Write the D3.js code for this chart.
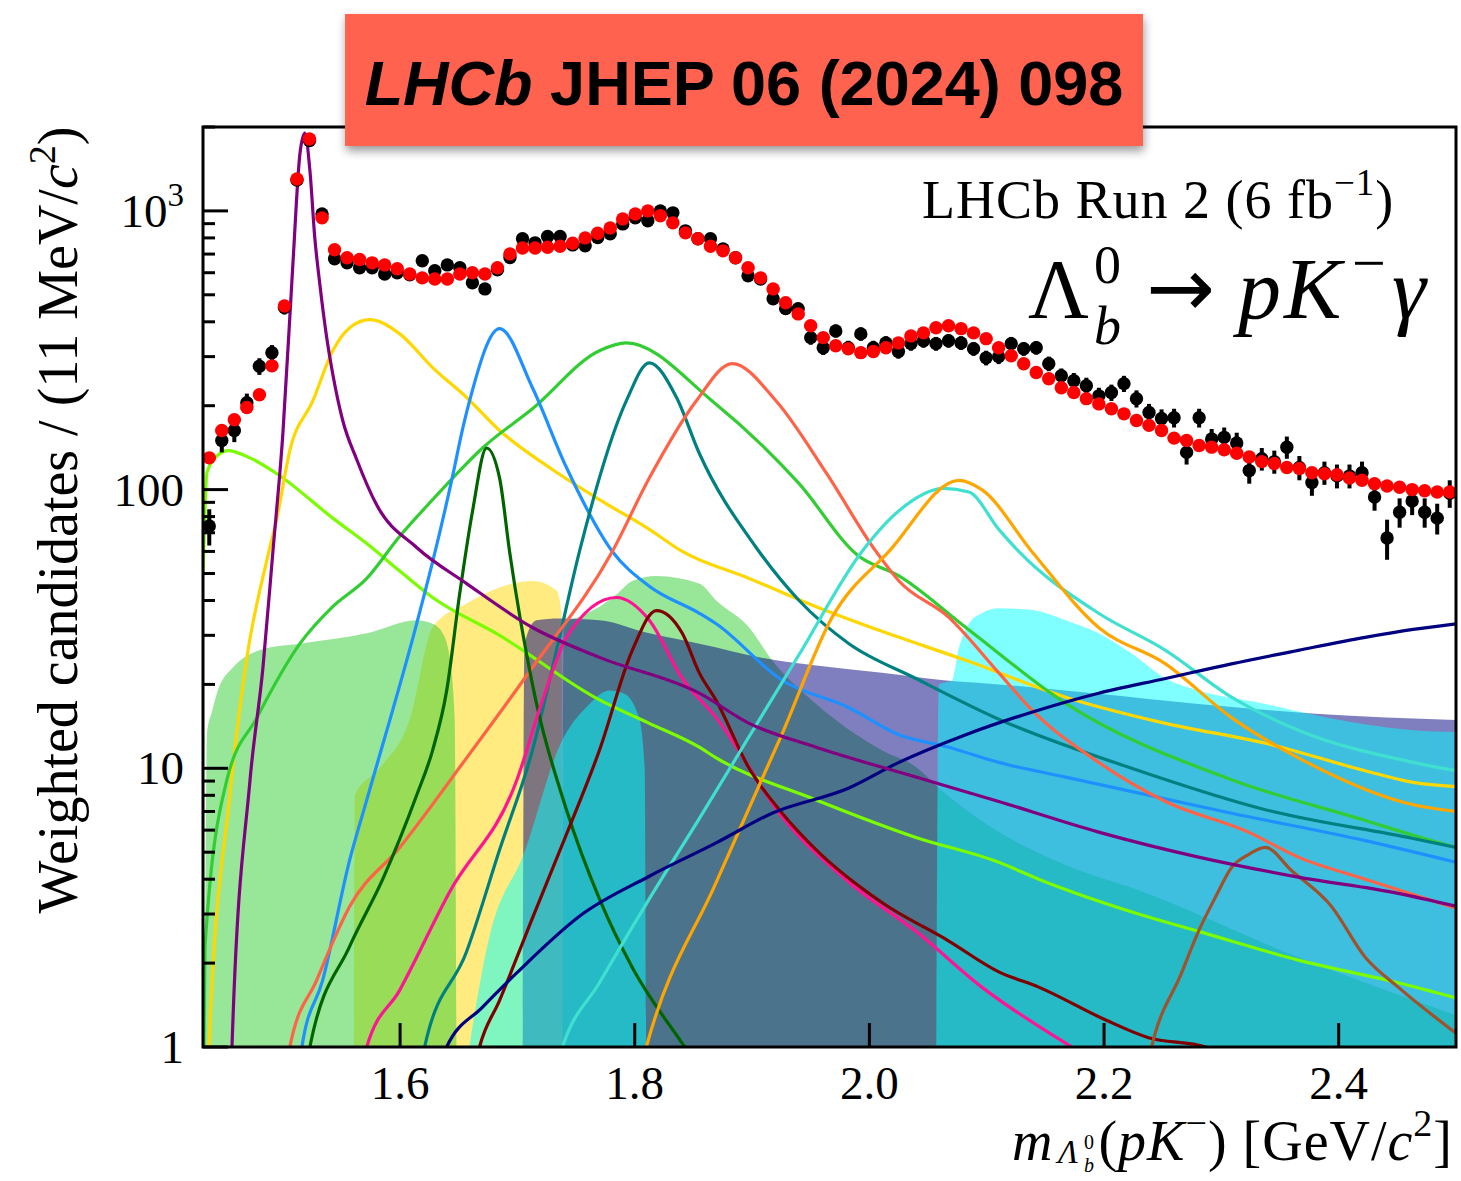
<!DOCTYPE html>
<html><head><meta charset="utf-8">
<script src="https://cdn.jsdelivr.net/npm/d3@7"></script>
<style>body{margin:0;background:#fff}svg{display:block}</style>
</head><body>
<svg id="chart" width="1461" height="1181"></svg>
<script>
// ---------------- DATA ----------------
const binLo = 1.432, binHi = 2.5, nBins = 100;
const dataBlack = [74,150,163,205,277,310,450,1290,1790,975,
 673,651,625,625,594,600,590,662,610,640,625,552,525,
 615,680,794,768,810,810,755,750,
 803,828,898,944,921,1000,984,848,794,794,730,679,
 585,570,484,446,446,351,323,371,
 323,362,323,336,313,334,342,334,342,336,320,297,
 300,334,320,323,283,256,246,236,217,223,240,212,189,
 180,181,136,181,152,154,147,117,129,126,142,120,106,
 115,112,112,115,94,67,83,91,83,79,97];
const errBlack = [11,14,15,16,19,20,25,40,48,35,
 28,27,27,27,26,26,26,28,27,27,27,26,25,
 26,28,30,30,30,30,29,29,
 30,30,32,33,32,33,33,31,30,30,29,28,
 26,25,23,22,22,20,19,20,
 19,20,19,19,18,19,19,19,19,19,18,18,
 18,19,18,18,17,16,16,16,15,15,16,15,14,
 14,14,13,14,13,13,13,12,12,12,13,12,11,
 11,11,11,11,10,11,10,10,10,10,11];
const fitRed = [130,163,178,197,219,278,456,1302,1811,944,
 725,679,669,651,640,620,594,575,570,570,594,600,594,
 625,701,736,736,741,747,765,800,
 831,869,936,975,1000,961,906,834,794,747,719,679,
 625,575,525,468,427,387,351,328,
 320,310,313,323,336,356,365,381,387,378,365,348,
 323,302,283,263,250,232,223,212,203,195,187,177,170,
 163,153,150,144,142,139,135,131,126,124,120,119,115,
 114,113,110,108,105,103,102,100,99,98,98];
const errRed = [5,6,7,8,9,11,16,40,55,30,
 24,23,22,22,21,21,20,20,20,20,20,20,20,
 21,23,24,24,24,24,25,26,
 27,28,29,30,30,29,28,27,26,25,24,23,
 22,20,19,17,16,15,14,13,
 13,13,13,13,13,14,14,14,14,14,14,13,
 13,12,12,11,10,10,9,9,9,8,8,8,7,
 7,7,6,6,6,6,6,6,5,5,5,5,5,
 5,5,5,4,4,4,4,4,4,4,4];

const xTicks = [1.6, 1.8, 2.0, 2.2, 2.4];
const xTickLabels = ["1.6", "1.8", "2.0", "2.2", "2.4"];
const yTicks = [1, 10, 100, 1000];
const yTickLabels = ["1", "10", "100", "10"];

// filled templates [mass, value]
const fillYellow = [[1.5605,0.5],[1.5614,8],[1.5826,10],[1.6082,15],[1.6277,32],[1.6567,39],[1.6848,44.5],[1.7128,47],[1.7333,43.5],[1.7375,36],[1.7392,0.5]];
const fillGreenA = [[1.4332,0.5],[1.4354,13.3],[1.4397,16],[1.4439,18.6],[1.4575,23],[1.4865,27],[1.5146,28],[1.5716,30.5],[1.6141,34],[1.6277,33],[1.6363,30.5],[1.6422,25],[1.6465,15],[1.6482,0.5]];
const fillGreenC = [[1.7384,0.5],[1.7395,33],[1.7529,35],[1.7699,38],[1.7843,42],[1.7979,47],[1.8184,49],[1.855,46],[1.8694,40],[1.8975,32],[1.9171,24.4],[1.9546,17],[2.0107,11.6],[2.0397,10.1],[2.0592,8.5],[2.1,6.3],[2.1673,4.5],[2.2294,3.65],[2.3656,2.1],[2.5,1.3]];
const fillNavy = [[1.7043,0.5],[1.706,28],[1.7163,34],[1.7358,34.5],[1.7699,34],[1.8124,30.5],[1.855,28],[1.9205,24.4],[1.9546,23.4],[2.0107,22],[2.0677,20.6],[2.1103,20],[2.1954,18.5],[2.2805,17],[2.3801,15.7],[2.5,14.9]];
const fillCyanLow = [[1.6482,0.5],[1.6763,2.5],[1.706,5],[1.7358,12],[1.7614,17],[1.7784,19],[1.7911,18.5],[1.8039,15],[1.8085,10],[1.8099,0.5]];
const fillCyanHigh = [[2.0567,0.5],[2.0592,20],[2.0703,20.6],[2.0763,27],[2.0848,33],[2.0958,36],[2.1103,37.5],[2.1384,37],[2.1673,34],[2.1954,30.5],[2.2235,25.8],[2.2524,21],[2.2805,19],[2.3375,17],[2.3801,15.5],[2.4635,13.7],[2.5,13.5]];

// line components [mass, value]
const compPurple = [[1.4545,0.5],[1.4567,1],[1.472,9],[1.4831,23],[1.4916,60],[1.5001,159],[1.5086,643],[1.5146,1600],[1.5188,1900],[1.5231,1400],[1.5273,800],[1.5316,545],[1.5375,350],[1.5426,260],[1.5511,177],[1.5631,128],[1.5801,88],[1.6141,62],[1.6567,46],[1.7128,32],[1.7699,25],[1.855,18.6],[1.8975,14.5],[1.9546,11.9],[2.0397,9.3],[2.1103,7.6],[2.1954,5.9],[2.2805,4.8],[2.3656,4.07],[2.4507,3.56],[2.5,3.2]];
const compGold = [[1.4355,0.6],[1.4371,1],[1.455,8.1],[1.4694,25],[1.4865,56],[1.495,79],[1.506,138],[1.5256,208],[1.5426,315],[1.5571,381],[1.5741,407],[1.5997,362],[1.6277,274],[1.6567,214],[1.6848,163],[1.7273,120],[1.7699,92],[1.8124,72],[1.8405,60],[1.8975,48],[1.9546,38],[2.0107,31],[2.0822,24.4],[2.1673,18],[2.2524,14.5],[2.3375,12.3],[2.4226,9.8],[2.4635,8.9],[2.5,8.6]];
const compBlue = [[1.514,0.7],[1.5163,1],[1.5341,1.74],[1.5571,4.7],[1.5716,7.7],[1.6141,33],[1.6277,55],[1.6448,112],[1.6533,165],[1.6592,208],[1.6848,378],[1.7128,232],[1.7418,120],[1.7809,60],[1.8124,45],[1.855,36],[1.8694,33],[1.9256,20.7],[1.9826,16.5],[2.0252,13.2],[2.0677,11.9],[2.1103,10.5],[2.1673,9.3],[2.3086,6.9],[2.4226,5.5],[2.5,4.6]];
const compGreen = [[1.4325,0.8],[1.4337,2.3],[1.4524,9.1],[1.478,15.2],[1.5146,28],[1.5426,38],[1.5716,48],[1.5997,68],[1.6277,92],[1.6567,124],[1.6703,141],[1.7128,195],[1.7699,315],[1.7928,336],[1.866,208],[1.9401,105],[1.9902,58],[2.0252,49],[2.0822,32],[2.1673,17.1],[2.3086,9.1],[2.4226,6.5],[2.4635,5.75],[2.5,5.2]];
const compTeal = [[1.62,0.8],[1.6209,1],[1.6567,2.2],[1.6848,5.1],[1.7128,11.6],[1.7333,26.5],[1.7529,60],[1.7928,208],[1.8124,285],[1.8354,215],[1.855,135],[1.9035,62],[1.9401,40],[1.9826,28],[2.0397,21],[2.1103,15],[2.2235,10],[2.3375,7.1],[2.4635,5.6],[2.5,5.2]];
const compTomato = [[1.505,0.8],[1.506,1],[1.529,1.74],[1.5571,3.2],[1.5997,5.2],[1.6567,10.9],[1.7128,23],[1.7809,60],[1.8124,110],[1.8524,208],[1.8831,283],[1.9205,208],[1.9631,115],[2.0056,60],[2.0252,47],[2.0677,34.8],[2.1103,22],[2.1384,16.2],[2.1954,10.5],[2.2524,7.6],[2.3231,5.9],[2.3656,4.8],[2.4226,4.0],[2.5,3.15]];
const compDarkGreen = [[1.52,0.8],[1.5231,1],[1.5571,2.3],[1.5852,4],[1.6141,8],[1.6277,11.6],[1.6397,19],[1.6507,42],[1.6618,84],[1.6737,141],[1.6848,110],[1.6933,60],[1.7128,20],[1.7418,7.1],[1.7699,3.4],[1.7979,1.93],[1.8405,1.03],[1.85,0.9]];
const compPink = [[1.57,0.9],[1.5716,1],[1.5997,1.6],[1.6422,3.6],[1.6992,9],[1.7214,17.5],[1.7418,29.5],[1.7843,41],[1.8124,34],[1.8405,21],[1.8694,15.2],[1.9256,6.7],[1.9826,3.9],[2.0397,2.6],[2.0958,1.64],[2.1724,1],[2.19,0.9]];
const compMaroon = [[1.665,0.9],[1.6677,1],[1.6848,1.47],[1.7128,2.9],[1.7418,5.8],[1.7699,11.6],[1.7979,26.5],[1.8184,36.8],[1.8405,30.5],[1.855,22],[1.8694,17.5],[1.8975,10],[1.9256,6.9],[1.9546,5.1],[2.0107,3.3],[2.0677,2.4],[2.1103,1.86],[2.1443,1.64],[2.2014,1.25],[2.2379,1.08],[2.2865,1],[2.3,0.9]];
const compNavy = [[1.635,0.9],[1.6397,1],[1.6703,1.39],[1.6992,1.84],[1.7554,3.0],[1.8124,4.1],[1.8694,5.4],[1.9171,6.9],[1.9826,8.5],[2.0252,10.5],[2.0822,13.2],[2.1384,15.9],[2.1954,18.6],[2.2524,21],[2.3086,23.7],[2.3656,26.5],[2.4226,29.5],[2.4635,31.5],[2.5,33]];
const compTurquoise = [[1.735,0.9],[1.7384,1],[1.7699,1.7],[1.8124,3.4],[1.855,6.6],[1.8975,13],[1.9401,25.6],[1.9937,60],[2.0252,84],[2.0635,101],[2.0848,98],[2.1103,72],[2.1273,60],[2.1954,36],[2.2524,26.5],[2.3086,18],[2.3656,13.7],[2.4635,10.5],[2.5,9.8]];
const compOrange = [[1.807,0.9],[1.8099,1],[1.8694,3.9],[1.9256,13.3],[1.9682,34.8],[2.0167,60],[2.0763,108],[2.0958,100],[2.1384,60],[2.1954,32],[2.2524,23.7],[2.3086,15.2],[2.3656,10.9],[2.4635,7.4],[2.5,7.0]];
const compChartreuse = [[1.432,50],[1.4354,115],[1.4422,130],[1.4533,138],[1.472,130],[1.495,114],[1.5426,79],[1.5716,64],[1.5997,51],[1.6277,41],[1.6848,30],[1.7699,17.6],[1.8124,14.5],[1.855,11.9],[1.8694,10.9],[1.9546,7.7],[2.0397,5.65],[2.1103,4.6],[2.1443,4],[2.2294,3],[2.2805,2.6],[2.3656,2.05],[2.4507,1.7],[2.5,1.5]];
const compSienna = [[2.238,0.9],[2.2405,1],[2.266,1.84],[2.2805,2.6],[2.295,3.45],[2.3086,4.4],[2.3231,4.9],[2.3375,5.2],[2.3597,4.3],[2.3937,3.2],[2.4226,2.1],[2.4507,1.64],[2.5,1.12]];

// ---------------- DRAW ----------------
const svg = d3.select("#chart");
const M = {l:203, r:1456, t:127, b:1047};
const x = d3.scaleLinear().domain([binLo, binHi]).range([M.l, M.r]);
const y = d3.scaleLog().domain([1, 2000]).range([M.b, M.t]);
const SERIF = "'Liberation Serif','Times New Roman',serif";

const defs = svg.append("defs");
defs.append("clipPath").attr("id","clip").append("rect")
  .attr("x",M.l).attr("y",M.t).attr("width",M.r-M.l).attr("height",M.b-M.t);
const flt = defs.append("filter").attr("id","shadow")
  .attr("x","-5%").attr("y","-10%").attr("width","112%").attr("height","135%");
flt.append("feDropShadow").attr("dx",1).attr("dy",5).attr("stdDeviation",5)
  .attr("flood-color","#000").attr("flood-opacity",0.4);

const plot = svg.append("g").attr("clip-path","url(#clip)");
const yv = v => y(Math.max(v, 0.05));

const area = d3.area().curve(d3.curveMonotoneX)
  .x(d => x(d[0])).y0(M.b + 5).y1(d => yv(d[1]));
const fills = [
  [fillYellow, "#FFD700"],
  [fillGreenA, "#32CD32"],
  [fillGreenC, "#32CD32"],
  [fillNavy, "#000080"],
  [fillCyanLow, "#00FFFF"],
  [fillCyanHigh, "#00FFFF"]
];
fills.forEach(([d, c]) => plot.append("path").datum(d).attr("d", area)
  .attr("fill", c).attr("fill-opacity", 0.5));

const line = d3.line().curve(d3.curveMonotoneX).x(d => x(d[0])).y(d => yv(d[1]));
const comps = [
  [compChartreuse, "#7CFC00"],
  [compGold, "#FFD700"],
  [compGreen, "#32CD32"],
  [compBlue, "#1E90FF"],
  [compTeal, "#008080"],
  [compTomato, "#FF6347"],
  [compDarkGreen, "#006400"],
  [compPink, "#FF1493"],
  [compMaroon, "#800000"],
  [compTurquoise, "#40E0D0"],
  [compOrange, "#FFA500"],
  [compNavy, "#000080"],
  [compSienna, "#A0522D"],
  [compPurple, "#800080"]
];
comps.forEach(([d, c]) => plot.append("path").datum(d).attr("d", line)
  .attr("fill", "none").attr("stroke", c).attr("stroke-width", 3.2).attr("stroke-linejoin","round"));

const bw = (binHi - binLo) / nBins;
const centers = d3.range(nBins).map(i => binLo + (i + 0.5) * bw);

const gB = plot.append("g");
gB.selectAll("line").data(dataBlack).join("line")
  .attr("x1",(d,i)=>x(centers[i])).attr("x2",(d,i)=>x(centers[i]))
  .attr("y1",(d,i)=>yv(d-errBlack[i])).attr("y2",(d,i)=>yv(d+errBlack[i]))
  .attr("stroke","#000").attr("stroke-width",4);
gB.selectAll("circle").data(dataBlack).join("circle")
  .attr("cx",(d,i)=>x(centers[i])).attr("cy",d=>yv(d)).attr("r",6.7).attr("fill","#000");

const gR = plot.append("g");
gR.selectAll("line.v").data(fitRed).join("line").attr("class","v")
  .attr("x1",(d,i)=>x(centers[i])).attr("x2",(d,i)=>x(centers[i]))
  .attr("y1",(d,i)=>yv(d-errRed[i])).attr("y2",(d,i)=>yv(d+errRed[i]))
  .attr("stroke","#FF0000").attr("stroke-width",4);
gR.selectAll("line.h").data(fitRed).join("line").attr("class","h")
  .attr("x1",(d,i)=>x(centers[i]-bw/2)).attr("x2",(d,i)=>x(centers[i]+bw/2))
  .attr("y1",d=>yv(d)).attr("y2",d=>yv(d))
  .attr("stroke","#FF0000").attr("stroke-width",4);
gR.selectAll("circle").data(fitRed).join("circle")
  .attr("cx",(d,i)=>x(centers[i])).attr("cy",d=>yv(d)).attr("r",6.7).attr("fill","#FF0000");

// ---------------- AXES ----------------
const ax = svg.append("g").attr("stroke","#000").attr("stroke-width",3);
y.ticks().forEach(v => {
  const major = yTicks.includes(v);
  ax.append("line").attr("x1",M.l).attr("x2",M.l + (major ? 25 : 12))
    .attr("y1",y(v)).attr("y2",y(v));
});
xTicks.forEach(v => ax.append("line").attr("x1",x(v)).attr("x2",x(v))
  .attr("y1",M.b).attr("y2",M.b-24));
svg.append("rect").attr("x",M.l).attr("y",M.t).attr("width",M.r-M.l).attr("height",M.b-M.t)
  .attr("fill","none").attr("stroke","#000").attr("stroke-width",3);

const tl = svg.append("g").attr("font-family",SERIF).attr("font-size",47).attr("fill","#000");
xTicks.forEach((v,i) => tl.append("text").attr("x",x(v)).attr("y",1099)
  .attr("text-anchor","middle").text(xTickLabels[i]));
yTicks.forEach((v,i) => {
  const t = tl.append("text").attr("x",184).attr("y",y(v)+16).attr("text-anchor","end");
  t.append("tspan").text(yTickLabels[i]);
  if (v === 1000) t.append("tspan").attr("font-size",33).attr("dy",-21).text("3");
});

// y label
const yl = svg.append("text").attr("transform","translate(77,520) rotate(-90)")
  .attr("text-anchor","middle").attr("font-family",SERIF).attr("font-size",56);
yl.append("tspan").text("Weighted candidates / (11 MeV/");
yl.append("tspan").attr("font-style","italic").text("c");
yl.append("tspan").attr("font-size",38).attr("dy",-22).text("2");
yl.append("tspan").attr("dy",22).text(")");

// x label
const xl = svg.append("g").attr("font-family",SERIF).attr("fill","#000");
xl.append("text").attr("x",1012).attr("y",1160).attr("font-size",56).attr("font-style","italic").text("m");
xl.append("text").attr("x",1058).attr("y",1163).attr("font-size",33).attr("font-style","italic").text("Λ");
xl.append("text").attr("x",1084).attr("y",1149).attr("font-size",20).text("0");
xl.append("text").attr("x",1084).attr("y",1172).attr("font-size",20).attr("font-style","italic").text("b");
const xr = xl.append("text").attr("x",1453).attr("y",1160).attr("font-size",56)
  .attr("text-anchor","end").attr("letter-spacing",1);
xr.append("tspan").text("(");
xr.append("tspan").attr("font-style","italic").text("pK");
xr.append("tspan").attr("font-size",38).attr("dy",-24).text("−");
xr.append("tspan").attr("dy",24).text(") [GeV/");
xr.append("tspan").attr("font-style","italic").text("c");
xr.append("tspan").attr("font-size",38).attr("dy",-24).text("2");
xr.append("tspan").attr("dy",24).text("]");

// annotations
const ann = svg.append("text").attr("x",922).attr("y",218).attr("font-family",SERIF)
  .attr("font-size",54).attr("letter-spacing",1);
ann.append("tspan").text("LHCb Run 2 (6 fb");
ann.append("tspan").attr("font-size",37).attr("dy",-23).text("−1");
ann.append("tspan").attr("dy",23).text(")");

const dec = svg.append("g").attr("font-family",SERIF).attr("fill","#000");
dec.append("text").attr("x",1028).attr("y",318).attr("font-size",84).text("Λ");
dec.append("text").attr("x",1094).attr("y",283).attr("font-size",54).text("0");
dec.append("text").attr("x",1094).attr("y",344).attr("font-size",54).attr("font-style","italic").text("b");
dec.append("text").attr("x",1146).attr("y",316).attr("font-size",82)
  .attr("font-family","'DejaVu Sans',sans-serif").text("→");
dec.append("text").attr("x",1238).attr("y",318).attr("font-size",86).attr("font-style","italic").text("p");
dec.append("text").attr("x",1284).attr("y",318).attr("font-size",86).attr("font-style","italic").text("K");
dec.append("text").attr("x",1352).attr("y",283).attr("font-size",60).text("−");
dec.append("text").attr("x",1392).attr("y",318).attr("font-size",86).attr("font-style","italic").text("γ");

// title box
svg.append("rect").attr("x",345).attr("y",14).attr("width",798).attr("height",132)
  .attr("fill","#FF6450").attr("filter","url(#shadow)");
const tt = svg.append("text").attr("x",744).attr("y",105).attr("text-anchor","middle")
  .attr("font-family","'Liberation Sans',Arial,sans-serif").attr("font-weight","bold")
  .attr("font-size",63).attr("fill","#000");
tt.append("tspan").attr("font-style","italic").text("LHCb");
tt.append("tspan").text(" JHEP 06 (2024) 098");
</script>
</body></html>
